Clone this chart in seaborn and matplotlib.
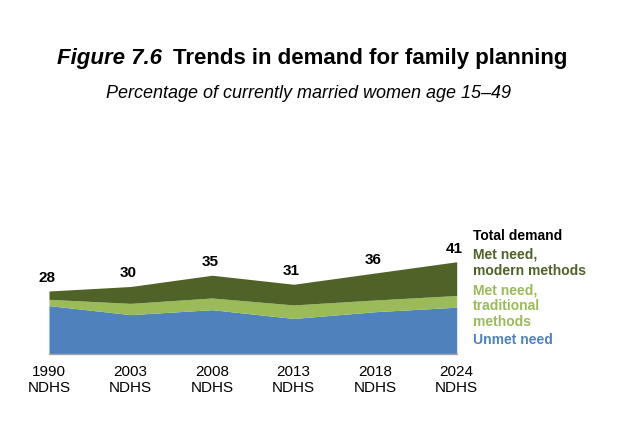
import numpy as np
import pandas as pd
import seaborn as sns
import matplotlib.pyplot as plt

# survey rounds
surveys = ["1990\nNDHS", "2003\nNDHS", "2008\nNDHS", "2013\nNDHS", "2018\nNDHS", "2024\nNDHS"]
# percentages
unmet_need = [21.5, 17.5, 19.7, 15.8, 18.8, 20.8]
met_traditional = [2.8, 5.0, 5.2, 6.0, 5.2, 5.2]
met_modern = [3.7, 7.5, 10.1, 9.2, 12.0, 15.0]
total_demand = [28, 30, 35, 31, 36, 41]

df = pd.DataFrame({"survey": surveys, "unmet": unmet_need,
                   "traditional": met_traditional, "modern": met_modern})

sns.set_theme(style="white")
plt.rcParams["font.family"] = ["Liberation Sans", "DejaVu Sans"]
plt.rcParams["text.color"] = "black"
plt.rcParams["xtick.color"] = "black"

blue = "#4F81BD"
light_green = "#9BBB59"
dark_green = "#4F6228"

W, H = 624, 432
fig = plt.figure(figsize=(W / 100, H / 100), dpi=100)
ax = fig.add_axes([49 / W, 78 / H, 407.7 / W, 101.25 / H])

x = np.arange(len(df))
ax.stackplot(x, df["unmet"], df["traditional"], df["modern"],
             colors=[blue, light_green, dark_green], linewidth=0)
ax.set_xlim(0, len(df) - 1)
ax.set_ylim(0, 45)

sns.despine(ax=ax, left=True, top=True, right=True)
ax.spines["bottom"].set_color("#A6A6A6")
ax.spines["bottom"].set_linewidth(1)
ax.set_yticks([])
ax.set_xticks(x)
ax.set_xticklabels(df["survey"], fontsize=11, linespacing=1.2)
ax.tick_params(axis="x", length=0, pad=8)
ax.set_xlabel("")
ax.set_ylabel("")

# totals above the stack
for xi, tot in zip(x, total_demand):
    ax.annotate(str(tot), (xi, tot), xytext=(-1.5, 6.5), textcoords="offset points",
                ha="center", va="baseline", fontsize=11, fontweight="bold",
                color="black", annotation_clip=False)


def ftext(px, py, s, **kw):
    fig.text(px / W, 1 - py / H, s, **kw)


# title
ftext(57.3, 64.3, "Figure 7.6", fontsize=16, fontweight="bold", fontstyle="italic",
      ha="left", va="baseline")
ftext(173.3, 64.3, "Trends in demand for family planning", fontsize=16,
      fontweight="bold", ha="left", va="baseline")
ftext(308, 98.3, "Percentage of currently married women age 15\u201349", fontsize=13,
      fontstyle="italic", ha="center", va="baseline")

# labels at the right
legend_lines = [
    (239.5, "Total demand", "black"),
    (258.5, "Met need,", dark_green),
    (275.0, "modern methods", dark_green),
    (294.3, "Met need,", light_green),
    (310.3, "traditional", light_green),
    (325.7, "methods", light_green),
    (344.3, "Unmet need", blue),
]
for py, s, c in legend_lines:
    ftext(472.7, py, s, fontsize=10, fontweight="bold", color=c, ha="left", va="baseline")

fig.savefig("out.png", dpi=100)
